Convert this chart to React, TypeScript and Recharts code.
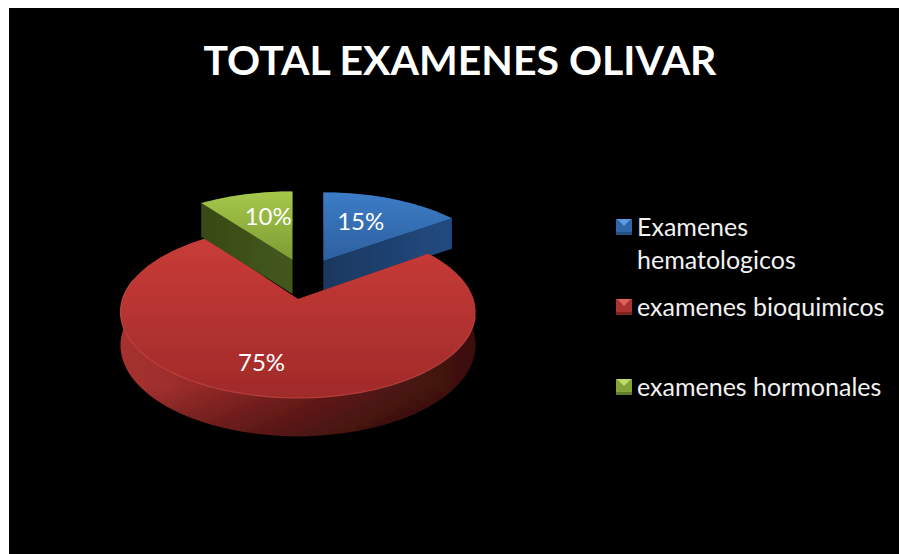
import React from 'react';
import { PieChart, Pie, Legend } from 'recharts';

const TITLE = 'TOTAL EXAMENES OLIVAR';
const categories = ['Examenes hematologicos', 'examenes bioquimicos', 'examenes hormonales'];
const values = [15, 75, 10];
const legendLines = [['Examenes', 'hematologicos'], ['examenes bioquimicos'], ['examenes hormonales']];

const FONT = 'Lato, "Open Sans", sans-serif';
const K = 0.151; // perspective
const Y_RATIO = 84 / 175.5;

type Look = {
  dx: number; dy: number; scale: number; yScale: number; depth: number; persp: boolean;
  top: [string, string]; wall: [string, string][]; cut: [string, string]; rim?: string;
  labelR: number; labelShift: number; marker: string[];
};
const looks: Record<string, Look> = {
  'Examenes hematologicos': {
    dx: 25.3, dy: -38, scale: 0.985, yScale: 0.94, depth: 30.5, persp: false,
    top: ['#3c7cc6', '#2c609f'], wall: [['0', '#1d3c66'], ['1', '#1d3c66']], cut: ['#224a80', '#1b3860'],
    labelR: 0.6, labelShift: -4, marker: ['#5a9ae0', '#2f66a8', '#244f85'],
  },
  'examenes bioquimicos': {
    dx: 0, dy: 0, scale: 1, yScale: 1, depth: 32.5, persp: true,
    top: ['#c93c38', '#a02a29'],
    wall: [['0', '#a5302e'], ['0.12', '#a02f2d'], ['0.3', '#8a2523'], ['0.55', '#6a1b19'], ['0.8', '#4a1412'], ['1', '#3a100f']],
    cut: ['#6e1d1b', '#4a1412'], rim: '#d9534e',
    labelR: 0.69, labelShift: 6.7, marker: ['#e0605a', '#a93331', '#7e2422'],
  },
  'examenes hormonales': {
    dx: -5.5, dy: -39, scale: 0.99, yScale: 0.94, depth: 34, persp: false,
    top: ['#a5c84a', '#7d9c34'], wall: [['0', '#3f5219'], ['1', '#3f5219']], cut: ['#44581c', '#384a16'],
    labelR: 0.635, labelShift: 4.1, marker: ['#c0dc68', '#84a43a', '#62792b'],
  },
};
const legendGaps = [0, 15, 47];

const pieData = categories.map((name, i) => ({ name, value: values[i], fill: looks[name].top[0] }));

const project = (cx: number, cy: number, R: number, l: Look, thetaDeg: number, r = 1) => {
  const t = (thetaDeg * Math.PI) / 180;
  const u = r * Math.sin(t);
  const v = r * Math.cos(t);
  const w = 1 + K * v;
  const rx = R * l.scale;
  return {
    x: cx + l.dx + (rx * u) / w,
    y: cy + l.dy - (R * Y_RATIO * l.yScale * v) / w,
    w,
  };
};
const dropOf = (l: Look, w: number) => (l.persp ? l.depth / w : l.depth);
const fmt = (n: number) => n.toFixed(2);

const Slice3D = (props: any) => {
  const { cx, cy, outerRadius, startAngle, endAngle, payload, name } = props;
  const key: string = payload?.name ?? name;
  const l = looks[key];
  const id = categories.indexOf(key);
  const th0 = 90 - startAngle;
  const th1 = 90 - endAngle;
  const n = Math.max(2, Math.ceil(Math.abs(th1 - th0) / 2));
  const arc = Array.from({ length: n + 1 }, (_, i) => project(cx, cy, outerRadius, l, th0 + ((th1 - th0) * i) / n));
  const apex = project(cx, cy, outerRadius, l, 0, 0);
  const apexDrop = dropOf(l, 1);
  const topD = `M${fmt(apex.x)},${fmt(apex.y)} ` + arc.map((p) => `L${fmt(p.x)},${fmt(p.y)}`).join(' ') + ' Z';
  const wallD =
    arc.map((p, i) => `${i ? 'L' : 'M'}${fmt(p.x)},${fmt(p.y)}`).join(' ') + ' ' +
    [...arc].reverse().map((p) => `L${fmt(p.x)},${fmt(p.y + dropOf(l, p.w))}`).join(' ') + ' Z';
  const cutFace = (p: { x: number; y: number; w: number }) =>
    `M${fmt(apex.x)},${fmt(apex.y)} L${fmt(p.x)},${fmt(p.y)} L${fmt(p.x)},${fmt(p.y + dropOf(l, p.w))} L${fmt(apex.x)},${fmt(apex.y + apexDrop)} Z`;
  const frontRim = arc
    .filter((_, i) => {
      const th = th0 + ((th1 - th0) * i) / n;
      return th > 100 && th < 285;
    })
    .map((p, i) => `${i ? 'L' : 'M'}${fmt(p.x)},${fmt(p.y)}`)
    .join(' ');
  return (
    <g filter="url(#soft)">
      <defs>
        <linearGradient id={`top${id}`} x1="0" y1="0" x2="0" y2="1">
          <stop offset="0" stopColor={l.top[0]} />
          <stop offset="1" stopColor={l.top[1]} />
        </linearGradient>
        <linearGradient id={`wall${id}`} x1="0" y1="0" x2="1" y2="0">
          {l.wall.map(([o, c]) => <stop key={o} offset={o} stopColor={c} />)}
        </linearGradient>
        <linearGradient id={`cut${id}`} x1="0" y1="0" x2="1" y2="0">
          <stop offset="0" stopColor={l.cut[1]} />
          <stop offset="1" stopColor={l.cut[0]} />
        </linearGradient>
        <linearGradient id={`shade${id}`} x1="0" y1="0" x2="0" y2="1">
          <stop offset="0.75" stopColor="#000" stopOpacity="0" />
          <stop offset="1" stopColor="#000" stopOpacity="0.3" />
        </linearGradient>
      </defs>
      <path d={wallD} fill={`url(#wall${id})`} />
      {l.rim ? <path d={wallD} fill={`url(#shade${id})`} /> : null}
      <path d={cutFace(arc[0])} fill={`url(#cut${id})`} />
      <path d={cutFace(arc[arc.length - 1])} fill={`url(#cut${id})`} />
      <path d={topD} fill={`url(#top${id})`} />
      {l.rim ? <path d={frontRim} fill="none" stroke={l.rim} strokeOpacity={0.6} strokeWidth={1.2} /> : null}
    </g>
  );
};

const SliceLabel = (props: any) => {
  const { cx, cy, outerRadius, midAngle, percent, payload, name } = props;
  const l = looks[payload?.name ?? name];
  const p = project(cx, cy, outerRadius, l, 90 - midAngle + l.labelShift, l.labelR);
  return (
    <text x={p.x} y={p.y} fill="#ffffff" fontFamily={FONT} fontSize={24} textAnchor="middle" dominantBaseline="central">
      {`${Math.round(percent * 100)}%`}
    </text>
  );
};

const Marker = ({ c }: { c: string[] }) => (
  <svg width={16} height={16} style={{ display: 'block', flex: 'none' }}>
    <rect width={16} height={16} fill={c[1]} />
    <polygon points="1,0 15,0 8,7" fill={c[0]} />
    <rect y={13} width={16} height={3} fill={c[2]} />
  </svg>
);

const LegendBox = (props: any) => {
  const payload: any[] = props.payload ?? [];
  return (
    <div style={{ fontFamily: FONT, fontSize: 25, lineHeight: '32.5px', color: '#f2f2f2' }}>
      {payload.map((e) => {
        const i = categories.indexOf(e.value);
        return (
          <div key={e.value} style={{ display: 'flex', alignItems: 'flex-start', marginTop: legendGaps[i] }}>
            <div style={{ paddingTop: 9 }}><Marker c={looks[e.value].marker} /></div>
            <div style={{ marginLeft: 5, whiteSpace: 'nowrap' }}>
              {legendLines[i].map((t) => <div key={t}>{t}</div>)}
            </div>
          </div>
        );
      })}
    </div>
  );
};

export default function App() {
  return (
    <div style={{ width: 890, height: 546, background: '#000', position: 'fixed', left: 9, top: 8 }}>
      <PieChart width={890} height={546} margin={{ top: 0, right: 0, bottom: 0, left: 0 }}>
        <defs>
          <filter id="soft" x="-5%" y="-5%" width="110%" height="110%">
            <feGaussianBlur stdDeviation="0.5" />
          </filter>
        </defs>
        <text x={451} y={51} fill="#ffffff" fontFamily={FONT} fontWeight={700} fontSize={41} textAnchor="middle" dominantBaseline="central">
          {TITLE}
        </text>
        <Pie
          data={pieData}
          dataKey="value"
          nameKey="name"
          cx={289}
          cy={291}
          outerRadius={175.5}
          startAngle={90}
          endAngle={-270}
          stroke="none"
          shape={Slice3D}
          label={SliceLabel}
          labelLine={false}
          isAnimationActive={false}
        />
        <Legend
          layout="vertical"
          content={LegendBox}
          wrapperStyle={{ position: 'absolute', left: 607, top: 202, width: 280, height: 210 }}
        />
      </PieChart>
    </div>
  );
}
